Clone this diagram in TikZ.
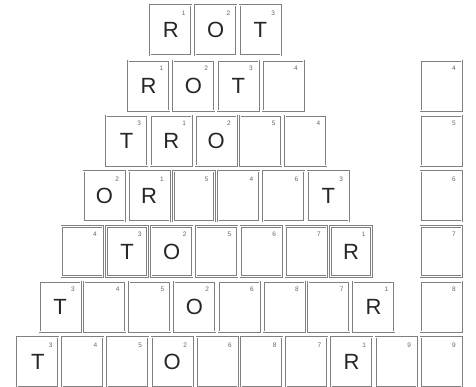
\documentclass[tikz,border=0pt]{standalone}
\usepackage{fontspec}
\setmainfont{Liberation Sans}
\begin{document}
\begin{tikzpicture}[x=1pt,y=1pt,
  tilebox/.style={draw=black!50, double=white, double distance=0.9pt, line width=0.6pt,
    minimum width=41pt, minimum height=50pt, inner sep=0pt, anchor=north west,
    font=\fontsize{22}{22}\selectfont, text=black!85},
  tilenum/.style={font=\fontsize{6.5}{6.5}\selectfont, text=black!60, inner sep=0pt}]
\newcommand\tilexy[5]{%
  \node[tilebox] (#1) at (#2,-#3) {#4};
  \node[tilenum] (#1n) at ([xshift=-8pt,yshift=-8pt]#1.north east) {#5};}
\newcommand\tile[5]{%
  \pgfmathsetmacro\tx{150-22.15*(#2-1)+44.8*(#3-1)}%
  \pgfmathsetmacro\ty{5+55.3*(#2-1)}%
  \tilexy{#1}{\tx}{\ty}{#4}{#5}}
\useasboundingbox (0,0) rectangle (476,-387);
% row 1
\tile{a1}{1}{1}{R}{1}\tile{a2}{1}{2}{O}{2}\tile{a3}{1}{3}{T}{3}
% row 2
\tile{b1}{2}{1}{R}{1}\tile{b2}{2}{2}{O}{2}\tile{b3}{2}{3}{T}{3}\tile{b4}{2}{4}{}{4}
% row 3
\tile{c1}{3}{1}{T}{3}\tile{c2}{3}{2}{R}{1}\tile{c3}{3}{3}{O}{2}\tile{c4}{3}{4}{}{5}\tile{c5}{3}{5}{}{4}
% row 4
\tile{d1}{4}{1}{O}{2}\tile{d2}{4}{2}{R}{1}\tile{d3}{4}{3}{}{5}\tile{d4}{4}{4}{}{4}\tile{d5}{4}{5}{}{6}\tile{d6}{4}{6}{T}{3}
% row 5
\tile{e1}{5}{1}{}{4}\tile{e2}{5}{2}{T}{3}\tile{e3}{5}{3}{O}{2}\tile{e4}{5}{4}{}{5}\tile{e5}{5}{5}{}{6}\tile{e6}{5}{6}{}{7}\tile{e7}{5}{7}{R}{1}
% row 6
\tile{f1}{6}{1}{T}{3}\tile{f2}{6}{2}{}{4}\tile{f3}{6}{3}{}{5}\tile{f4}{6}{4}{O}{2}\tile{f5}{6}{5}{}{6}\tile{f6}{6}{6}{}{8}\tile{f7}{6}{7}{}{7}\tile{f8}{6}{8}{R}{1}
% row 7
\tile{g1}{7}{1}{T}{3}\tile{g2}{7}{2}{}{4}\tile{g3}{7}{3}{}{5}\tile{g4}{7}{4}{O}{2}\tile{g5}{7}{5}{}{6}\tile{g6}{7}{6}{}{8}\tile{g7}{7}{7}{}{7}\tile{g8}{7}{8}{R}{1}\tile{g9}{7}{9}{}{9}\tile{g10}{7}{10}{}{9}
% right column
\tilexy{h2}{420.3}{60.3}{}{4}
\tilexy{h3}{420.3}{115.6}{}{5}
\tilexy{h4}{420.3}{170.9}{}{6}
\tilexy{h5}{420.3}{226.2}{}{7}
\tilexy{h6}{420.3}{281.5}{}{8}
\end{tikzpicture}
\end{document}
